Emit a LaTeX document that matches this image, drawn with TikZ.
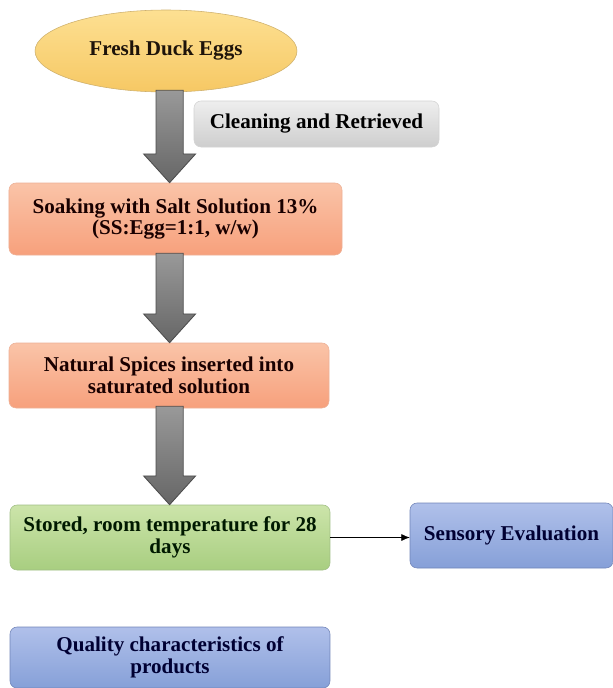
\documentclass[tikz,border=0pt]{standalone}
\usepackage{fontspec}
\setmainfont{Liberation Serif}
\usepackage{xcolor}
\usepackage{tikz}
\usetikzlibrary{positioning,calc,arrows.meta,shapes.geometric}

\definecolor{eggtop}{RGB}{253,224,146}
\definecolor{eggbot}{RGB}{246,200,100}
\definecolor{eggline}{RGB}{206,176,108}
\definecolor{greytop}{RGB}{238,238,238}
\definecolor{greybot}{RGB}{206,206,206}
\definecolor{salmtop}{RGB}{250,196,168}
\definecolor{salmbot}{RGB}{247,160,124}
\definecolor{salmline}{RGB}{236,176,150}
\definecolor{greentop}{RGB}{204,228,170}
\definecolor{greenbot}{RGB}{168,206,128}
\definecolor{greenline}{RGB}{160,190,132}
\definecolor{bluetop}{RGB}{176,192,234}
\definecolor{bluebot}{RGB}{134,160,216}
\definecolor{blueline}{RGB}{112,132,184}

\tikzset{
  stepbox/.style={draw, rounded corners=5pt, align=center, inner sep=0pt,
    font=\fontsize{15}{15.6}\selectfont\bfseries},
  eggnode/.style={ellipse, draw=eggline, top color=eggtop, bottom color=eggbot,
    minimum width=6.55cm, minimum height=2.05cm, inner sep=0pt,
    font=\fontsize{15}{15.6}\selectfont\bfseries, text=black!85!brown},
  greybox/.style={stepbox, draw=greybot!90!white, top color=greytop, bottom color=greybot},
  salmbox/.style={stepbox, draw=salmline, top color=salmtop, bottom color=salmbot, text=black!90!red},
  greenbox/.style={stepbox, draw=greenline, top color=greentop, bottom color=greenbot, text=black!90!green},
  bluebox/.style={stepbox, draw=blueline, top color=bluetop, bottom color=bluebot, text=black!80!blue},
  bigarrow/.style={draw=black!70, line width=0.6pt, top color=black!40, bottom color=black!60}
}

% block arrow down the axis, from the south of #1 to the north of #2
\newcommand{\flowarrow}[2]{%
  \path (#1.south -| axis) coordinate (a0) (#2.north -| axis) coordinate (a1);
  \draw[bigarrow] ($(a0)+(-0.34,0.05)$) -- ($(a1)+(-0.34,0.72)$) -- ($(a1)+(-0.65,0.72)$)
    -- (a1) -- ($(a1)+(0.65,0.72)$) -- ($(a1)+(0.34,0.72)$) -- ($(a0)+(0.34,0.05)$) -- cycle;}

\begin{document}
\begin{tikzpicture}
  \useasboundingbox (0,0) rectangle (15.325,-17.2);
  \coordinate (axis) at (4.24,0);

  % Main column
  \node[eggnode] (eggs) at (4.15,-1.275) {Fresh Duck Eggs};
  \node[greybox, minimum width=6.125cm, minimum height=1.15cm] (clean) at (7.9125,-3.1) {Cleaning and Retrieved};
  \node[salmbox, minimum width=8.325cm, minimum height=1.8cm] (soak) at (4.3875,-5.475)
    {Soaking with Salt Solution 13\%\\(SS:Egg=1:1, w/w)};
  \node[salmbox, minimum width=8.0cm, minimum height=1.625cm] (spice) at (4.225,-9.3875)
    {Natural Spices inserted into\\saturated solution};
  \node[greenbox, minimum width=8.0cm, minimum height=1.625cm] (store) at (4.25,-13.4375)
    {Stored, room temperature for 28\\days};

  % Outputs
  \node[bluebox, minimum width=5.075cm, minimum height=1.625cm] (sense) at (12.7875,-13.3875) {Sensory Evaluation};
  \node[bluebox, minimum width=8.0cm, minimum height=1.525cm] (quality) at (4.25,-16.4375)
    {Quality characteristics of\\products};

  % Arrows
  \flowarrow{eggs}{soak}
  \flowarrow{soak}{spice}
  \flowarrow{spice}{store}
  \draw[-{Latex[length=6pt,width=5pt]}, thin] (store.east) -- (store.east -| sense.west);
\end{tikzpicture}
\end{document}
